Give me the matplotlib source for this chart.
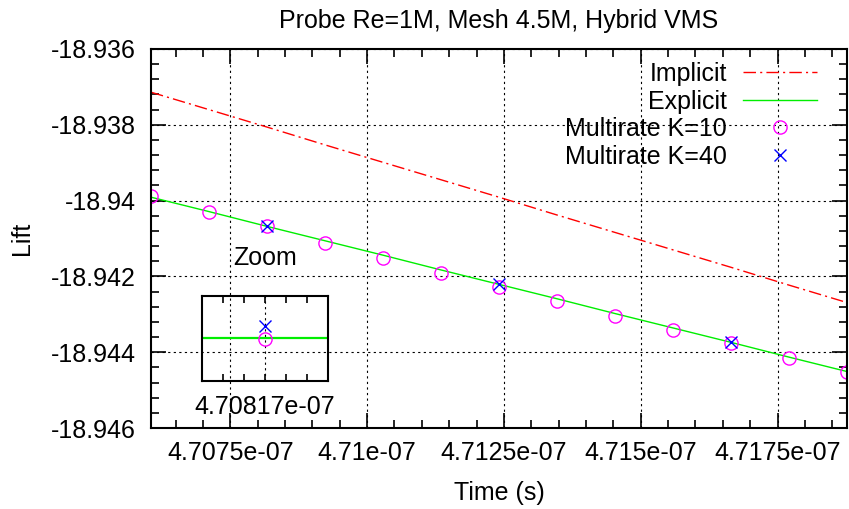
# Probe lift vs time: implicit / explicit / multirate, with zoom inset

import numpy as np
import matplotlib
matplotlib.use("Agg")
import matplotlib.pyplot as plt
from matplotlib.ticker import FuncFormatter, MultipleLocator, FixedLocator

plt.rcParams['font.family'] = ['Liberation Sans', 'DejaVu Sans']

# Data

time = [4.70605e-07, 4.70711e-07, 4.70817e-07, 4.70923e-07, 4.71029e-07,
        4.71135e-07, 4.71241e-07, 4.71347e-07, 4.71453e-07, 4.71559e-07,
        4.71665e-07, 4.71771e-07, 4.71877e-07]

implicit = [-18.93714, -18.93760, -18.93806, -18.93853, -18.93899,
            -18.93945, -18.93991, -18.94038, -18.94084, -18.94130,
            -18.94176, -18.94223, -18.94269]

explicit = [-18.93991, -18.94029, -18.94068, -18.94106, -18.94144,
            -18.94183, -18.94221, -18.94259, -18.94298, -18.94336,
            -18.94374, -18.94413, -18.94451]

multirate_k10 = [-18.93987, -18.94031, -18.94068, -18.94112, -18.94151,
                 -18.94190, -18.94227, -18.94265, -18.94305, -18.94341,
                 -18.94377, -18.94415, -18.94451]

time_k40 = [4.70817e-07, 4.71241e-07, 4.71665e-07]
multirate_k40 = [-18.94068, -18.94221, -18.94374]

# zoom inset: local offsets around t = 4.70817e-07 (arbitrary tiny units)
zoom_center = 4.70817e-07
zoom_offset = [-3, 3]
zoom_explicit = [-18.94068000, -18.94068000]
zoom_k10 = -18.94068002
zoom_k40 = -18.94067970

FS = 18

fig = plt.figure(figsize=(8.49, 5.09), dpi=100)
ax = fig.add_axes([151/849, 1 - 428/509, 696/849, 379/509])

ax.plot(time, implicit, color='#ff0000', lw=1.0,
        dashes=(9, 3, 1.5, 3), label='Implicit')
ax.plot(time, explicit, color='#00ee00', lw=1.0, label='Explicit')
ax.plot(time, multirate_k10, 'o', mfc='none', mec='#ff00ff', ms=9.5,
        mew=1.0, label='Multirate K=10')
ax.plot(time_k40, multirate_k40, 'x', color='#0000ff', ms=8.5,
        mew=1.0, label='Multirate K=40')

ax.set_xlim(time[0], time[-1])
ax.set_ylim(-18.946, -18.936)

ax.xaxis.set_major_locator(MultipleLocator(2.5e-10))
ax.xaxis.set_minor_locator(MultipleLocator(0.5e-10))
ax.yaxis.set_major_locator(MultipleLocator(0.002))
ax.yaxis.set_minor_locator(MultipleLocator(0.0004))
fmt = FuncFormatter(lambda v, p: '%g' % v)
ax.xaxis.set_major_formatter(fmt)
ax.yaxis.set_major_formatter(fmt)

ax.tick_params(which='both', direction='in', top=True, right=True,
               labelsize=FS, width=1.2)
ax.tick_params(which='major', length=11)
ax.tick_params(which='minor', length=6)
ax.tick_params(axis='x', pad=9)
ax.tick_params(axis='y', pad=11)
for s in ax.spines.values():
    s.set_linewidth(1.5)

ax.grid(True, which='major', color='black', lw=0.8, linestyle=(0, (2, 3)))

ax.set_title('Probe Re=1M, Mesh 4.5M, Hybrid VMS', fontsize=FS, pad=15)
ax.set_xlabel('Time (s)', fontsize=FS, labelpad=12)
ax.set_ylabel('Lift', fontsize=FS, labelpad=12)

leg = ax.legend(loc='upper right', bbox_to_anchor=(817/849, 1 - 62/509),
                bbox_transform=fig.transFigure, frameon=False,
                markerfirst=False, fontsize=FS, handlelength=2.95,
                handletextpad=0.65, labelspacing=0.14, borderpad=0,
                borderaxespad=0)
for col in leg._legend_handle_box.get_children():
    col.align = 'right'

# Zoom inset

axz = fig.add_axes([201.7/849, 1 - 381/509, 126.6/849, 85.3/509])
axz.patch.set_alpha(0)
axz.plot(zoom_offset, zoom_explicit, color='#00ee00', lw=1.6)
axz.plot([0], [zoom_k10], 'o', mfc='none', mec='#ff00ff', ms=9.5, mew=1.0)
axz.plot([0], [zoom_k40], 'x', color='#0000ff', ms=8.5, mew=1.0)
axz.set_xlim(zoom_offset)
axz.set_ylim(zoom_explicit[0] - 1e-6, zoom_explicit[0] + 1e-6)
axz.xaxis.set_major_locator(FixedLocator([0]))
axz.xaxis.set_minor_locator(FixedLocator([-2, -1, 1, 2]))
axz.xaxis.set_major_formatter(FuncFormatter(lambda v, p: '%g' % (zoom_center + v * 1e-17)))
axz.set_yticks([])
axz.tick_params(which='both', direction='in', top=True, length=5,
                width=1.2, labelsize=FS, pad=10)
axz.grid(True, axis='x', which='major', color='black', lw=0.8,
         linestyle=(0, (2, 3)))
for s in axz.spines.values():
    s.set_linewidth(1.5)
axz.set_title('Zoom', fontsize=FS, pad=22)

fig.savefig('out.png', dpi=100)
